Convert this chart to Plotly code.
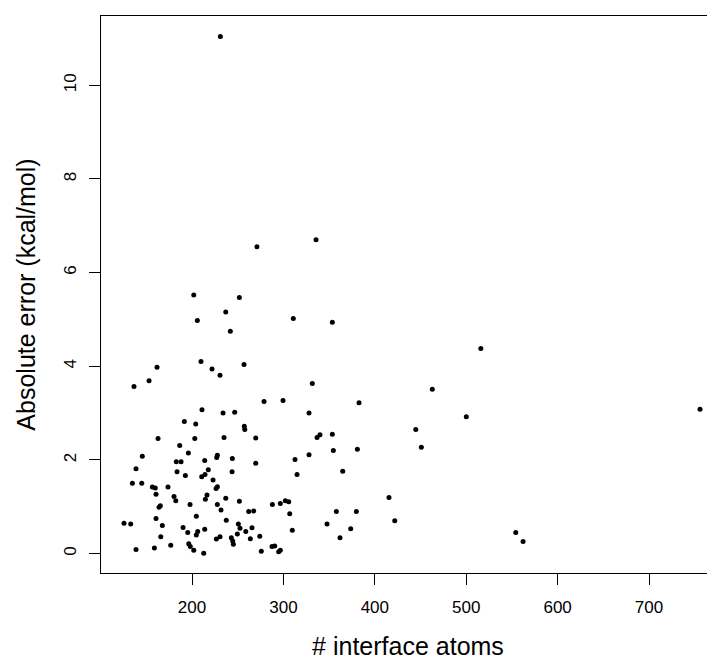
import plotly.graph_objects as go

interface_atoms = [
    231.0, 271.0, 335.7, 201.9, 251.8, 236.9, 205.8, 241.9, 310.8, 209.8,
    221.9, 230.6, 256.9, 161.7, 153.0, 136.5, 210.9, 233.9, 246.7, 278.8,
    299.6, 191.6, 204.0, 257.2, 257.7, 162.8, 203.0, 235.0, 269.7, 186.5,
    196.0, 145.6, 227.7, 227.0, 244.1, 182.8, 188.0, 213.9, 269.7, 312.7,
    138.7, 183.6, 217.8, 243.8, 314.9, 192.7, 210.6, 214.2, 134.7, 145.0,
    223.0, 156.6, 159.8, 173.7, 227.7, 226.3, 160.6, 180.3, 216.4, 182.2,
    214.6, 236.9, 251.8, 197.8, 227.7, 165.3, 163.9, 231.7, 262.0, 267.5,
    287.9, 296.6, 302.1, 305.8, 306.9, 204.7, 160.6, 237.5, 125.6, 132.9,
    167.5, 250.7, 252.5, 190.2, 213.9, 265.6, 258.8, 309.7, 195.3, 206.2,
    204.7, 249.6, 165.8, 230.6, 226.6, 243.0, 244.5, 245.2, 263.8, 274.1,
    176.7, 196.4, 198.1, 201.9, 212.8, 138.7, 158.8, 275.8, 287.5, 290.5,
    294.8, 296.6, 353.5, 331.6, 328.0, 382.7, 462.9, 500.1, 516.0, 444.8,
    450.9, 353.5, 340.0, 336.8, 328.0, 354.6, 380.9, 364.9, 415.5, 421.8,
    357.9, 379.8, 347.7, 373.6, 361.9, 755.8, 554.2, 562.2,
]

absolute_error = [
    11.04, 6.55, 6.70, 5.52, 5.47, 5.16, 4.98, 4.75, 5.02, 4.10,
    3.94, 3.81, 4.04, 3.98, 3.69, 3.57, 3.07, 3.00, 3.02, 3.25,
    3.27, 2.82, 2.77, 2.72, 2.65, 2.46, 2.46, 2.48, 2.47, 2.31,
    2.15, 2.08, 2.10, 2.05, 2.03, 1.96, 1.96, 1.99, 1.93, 2.01,
    1.81, 1.75, 1.79, 1.75, 1.69, 1.67, 1.64, 1.69, 1.50, 1.50,
    1.57, 1.42, 1.40, 1.42, 1.43, 1.39, 1.27, 1.22, 1.25, 1.13,
    1.16, 1.18, 1.12, 1.05, 1.05, 1.02, 0.99, 0.93, 0.90, 0.91,
    1.05, 1.07, 1.13, 1.11, 0.85, 0.80, 0.75, 0.71, 0.65, 0.63,
    0.60, 0.63, 0.54, 0.56, 0.52, 0.55, 0.47, 0.50, 0.45, 0.47,
    0.40, 0.42, 0.36, 0.36, 0.31, 0.34, 0.27, 0.20, 0.32, 0.37,
    0.18, 0.21, 0.15, 0.07, 0.01, 0.09, 0.12, 0.05, 0.15, 0.16,
    0.04, 0.07, 4.94, 3.63, 3.00, 3.22, 3.51, 2.92, 4.38, 2.65,
    2.27, 2.55, 2.54, 2.48, 2.11, 2.20, 2.23, 1.76, 1.20, 0.70,
    0.90, 0.90, 0.63, 0.53, 0.34, 3.08, 0.45, 0.26,
]

x_ticks = [200, 300, 400, 500, 600, 700]
y_ticks = [0, 2, 4, 6, 8, 10]

FONT = "Liberation Sans, Arial, sans-serif"

fig = go.Figure(
    go.Scatter(
        x=interface_atoms,
        y=absolute_error,
        mode="markers",
        marker=dict(color="black", size=5, line=dict(width=0)),
        hoverinfo="x+y",
    )
)

fig.update_layout(
    width=707,
    height=652,
    margin=dict(l=93, r=0, t=8, b=87, autoexpand=False),
    paper_bgcolor="white",
    plot_bgcolor="white",
    showlegend=False,
    font=dict(family=FONT, color="black"),
    xaxis=dict(
        range=[100.4, 772.2],
        tickvals=x_ticks,
        ticktext=[str(v) for v in x_ticks],
        showgrid=False,
        zeroline=False,
        showline=True,
        mirror=True,
        linecolor="black",
        linewidth=1,
        ticks="outside",
        ticklen=11,
        tickcolor="black",
        tickwidth=1,
        ticklabelstandoff=8,
        tickfont=dict(size=17, family=FONT, color="black"),
        title=dict(text="# interface atoms", font=dict(size=25, family=FONT, color="black"), standoff=24),
    ),
    yaxis=dict(
        range=[-0.414, 11.48],
        tickvals=y_ticks,
        ticktext=[str(v) for v in y_ticks],
        showgrid=False,
        zeroline=False,
        showline=True,
        mirror=False,
        linecolor="black",
        linewidth=1,
        ticks="outside",
        ticklen=11,
        tickcolor="black",
        tickwidth=1,
        tickangle=-90,
        ticklabelstandoff=6,
        tickfont=dict(size=17, family=FONT, color="black"),
        title=dict(text="Absolute error (kcal/mol)", font=dict(size=25, family=FONT, color="black"), standoff=18),
    ),
)

fig.write_html("out.html")
